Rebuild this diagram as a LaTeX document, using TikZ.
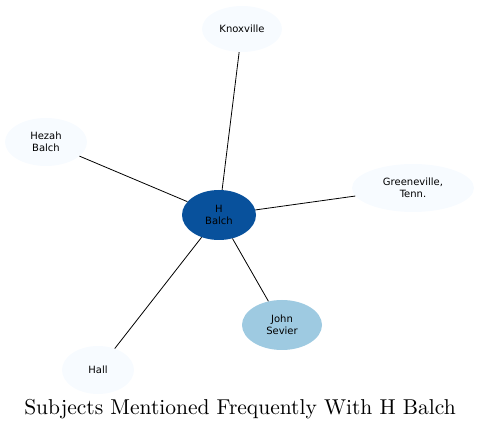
\documentclass[tikz,border=0pt]{standalone}
\usepackage{fontspec}
\newfontfamily\labelfont{DejaVu Sans}
\newfontfamily\titlefont{lmroman10-regular.otf}
\usetikzlibrary{shapes.geometric}
\definecolor{hubblue}{HTML}{08519C}
\definecolor{midblue}{HTML}{9ECAE1}
\definecolor{paleblue}{HTML}{F7FBFF}
\tikzset{
  ent/.style={ellipse, draw=none, inner sep=0pt, align=center, font=\labelfont\fontsize{10}{11.5}\selectfont, text=black},
  conn/.style={draw=black, line width=0.8pt},
}
\begin{document}
\begin{tikzpicture}[x=1pt,y=1pt]
\useasboundingbox (0,0) rectangle (480,431);
\node[ent, fill=hubblue, minimum width=74pt, minimum height=50pt] (hb) at (219,216) {H\\Balch};
\node[ent, fill=paleblue, minimum width=80pt, minimum height=46pt] (kx) at (242,402) {Knoxville};
\node[ent, fill=paleblue, minimum width=82pt, minimum height=48pt] (hz) at (46,289) {Hezah\\Balch};
\node[ent, fill=paleblue, minimum width=122pt, minimum height=48pt] (gv) at (413,243) {Greeneville,\\Tenn.};
\node[ent, fill=midblue, minimum width=80pt, minimum height=50pt] (js) at (282,106) {John\\Sevier};
\node[ent, fill=paleblue, minimum width=72pt, minimum height=48pt] (hl) at (98,61) {Hall};
\draw[conn] (hb) -- (kx);
\draw[conn] (hb) -- (hz);
\draw[conn] (hb) -- (gv);
\draw[conn] (hb) -- (js);
\draw[conn] (hb) -- (hl);
\node[font=\titlefont\fontsize{21.5}{23}\selectfont] (title) at (240,22) {Subjects Mentioned Frequently With H Balch};
\end{tikzpicture}
\end{document}
